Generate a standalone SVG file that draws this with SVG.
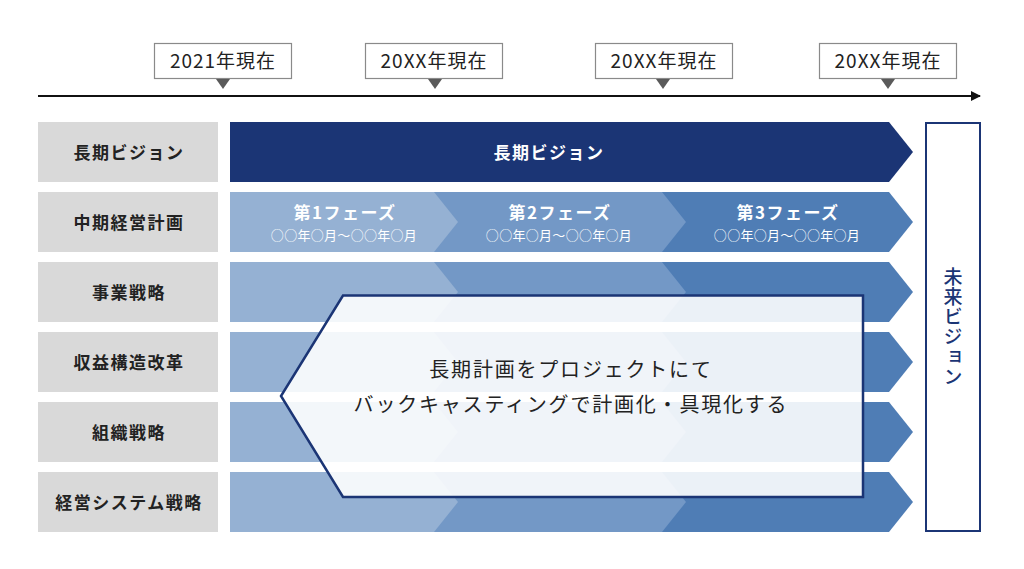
<svg xmlns="http://www.w3.org/2000/svg" width="1024" height="569" viewBox="0 0 1024 569">
<defs>
<style>
text{font-family:"Noto Sans CJK JP","Noto Sans",sans-serif}
.lbl{fill:#d9d9d9}
.lt{font-size:17px;font-weight:bold;fill:#222;text-anchor:middle;letter-spacing:1.5px}
.tb{fill:#fff;stroke:#8a8a8a;stroke-width:1.2}
.tt{font-size:19px;fill:#222;text-anchor:middle;letter-spacing:1px}
.ptr{fill:#5a5a5a}
.s1{fill:#95b1d3}
.s2{fill:#7398c6}
.s3{fill:#4f7db5}
.ph{font-size:17px;font-weight:bold;fill:#fff;text-anchor:middle;letter-spacing:1.5px}
.pd{font-size:13px;fill:#fff;text-anchor:middle;letter-spacing:0.3px}
</style>
<marker id="arr" viewBox="0 0 10 10" refX="9" refY="5" markerWidth="5" markerHeight="6" markerUnits="strokeWidth" orient="auto">
<path d="M0,0 L10,5 L0,10 z" fill="#111"/>
</marker>
</defs>
<rect width="1024" height="569" fill="#fff"/>

<g id="timeline">
<line x1="38" y1="96" x2="980" y2="96" stroke="#111" stroke-width="2" marker-end="url(#arr)"/>
</g>

<g id="t2021">
<rect class="tb" x="154.5" y="43.5" width="137" height="35"/>
<path class="ptr" d="M216,79 L230,79 L223,89 z"/>
<text class="tt" x="223" y="68">2021年現在</text>
</g>
<g id="t2">
<rect class="tb" x="365.5" y="43.5" width="137" height="35"/>
<path class="ptr" d="M428,79 L442,79 L435,89 z"/>
<text class="tt" x="434" y="68">20XX年現在</text>
</g>
<g id="t3">
<rect class="tb" x="595.5" y="43.5" width="137" height="35"/>
<path class="ptr" d="M656,79 L670,79 L663,89 z"/>
<text class="tt" x="664" y="68">20XX年現在</text>
</g>
<g id="t4">
<rect class="tb" x="819.5" y="43.5" width="137" height="35"/>
<path class="ptr" d="M881,79 L895,79 L888,89 z"/>
<text class="tt" x="888" y="68">20XX年現在</text>
</g>

<g id="labels">
<rect class="lbl" x="38" y="122" width="180" height="60"/>
<text class="lt" x="129" y="158.5">長期ビジョン</text>
<rect class="lbl" x="38" y="192" width="180" height="60"/>
<text class="lt" x="129" y="228.5">中期経営計画</text>
<rect class="lbl" x="38" y="262" width="180" height="60"/>
<text class="lt" x="129" y="298.5">事業戦略</text>
<rect class="lbl" x="38" y="332" width="180" height="60"/>
<text class="lt" x="129" y="368.5">収益構造改革</text>
<rect class="lbl" x="38" y="402" width="180" height="60"/>
<text class="lt" x="129" y="438.5">組織戦略</text>
<rect class="lbl" x="38" y="472" width="180" height="60"/>
<text class="lt" x="129" y="508.5">経営システム戦略</text>
</g>

<g id="vision-bar">
<path d="M230,122 L889,122 L913,152 L889,182 L230,182 z" fill="#1b3575"/>
<text class="lt" x="549" y="158.5" fill="#fff" style="fill:#fff">長期ビジョン</text>
</g>

<g id="phases">
<g id="row2">
<path class="s3" d="M662,192 L889,192 L913,222 L889,252 L662,252 z"/>
<path class="s2" d="M434,192 L662,192 L686,222 L662,252 L434,252 z"/>
<path class="s1" d="M230,192 L434,192 L458,222 L434,252 L230,252 z"/>
<text class="ph" x="345" y="219">第1フェーズ</text>
<text class="pd" x="344" y="240">○○年○月～○○年○月</text>
<text class="ph" x="560" y="219">第2フェーズ</text>
<text class="pd" x="559" y="240">○○年○月～○○年○月</text>
<text class="ph" x="788" y="219">第3フェーズ</text>
<text class="pd" x="787" y="240">○○年○月～○○年○月</text>
</g>
<g id="row3">
<path class="s3" d="M662,262 L889,262 L913,292 L889,322 L662,322 z"/>
<path class="s2" d="M434,262 L662,262 L686,292 L662,322 L434,322 z"/>
<path class="s1" d="M230,262 L434,262 L458,292 L434,322 L230,322 z"/>
</g>
<g id="row4">
<path class="s3" d="M662,332 L889,332 L913,362 L889,392 L662,392 z"/>
<path class="s2" d="M434,332 L662,332 L686,362 L662,392 L434,392 z"/>
<path class="s1" d="M230,332 L434,332 L458,362 L434,392 L230,392 z"/>
</g>
<g id="row5">
<path class="s3" d="M662,402 L889,402 L913,432 L889,462 L662,462 z"/>
<path class="s2" d="M434,402 L662,402 L686,432 L662,462 L434,462 z"/>
<path class="s1" d="M230,402 L434,402 L458,432 L434,462 L230,462 z"/>
</g>
<g id="row6">
<path class="s3" d="M662,472 L889,472 L913,502 L889,532 L662,532 z"/>
<path class="s2" d="M434,472 L662,472 L686,502 L662,532 L434,532 z"/>
<path class="s1" d="M230,472 L434,472 L458,502 L434,532 L230,532 z"/>
</g>
</g>

<g id="future">
<rect x="926" y="123" width="54" height="408" fill="#fff" stroke="#1b3575" stroke-width="2"/>
<text x="953" y="327" font-size="19" font-weight="500" fill="#1b3575" text-anchor="middle" style="writing-mode:vertical-rl;letter-spacing:1px">未来ビジョン</text>
</g>

<g id="backcast">
<path d="M343,295.5 L863,295.5 L863,497 L343,497 L281,396 z" fill="#fff" fill-opacity="0.89" stroke="#1b3575" stroke-width="2.5" stroke-linejoin="miter"/>
<text x="571" y="377" font-size="20" fill="#222" text-anchor="middle" letter-spacing="1.8">長期計画をプロジェクトにて</text>
<text x="571" y="412" font-size="20" fill="#222" text-anchor="middle" letter-spacing="1.8">バックキャスティングで計画化・具現化する</text>
</g>
</svg>
